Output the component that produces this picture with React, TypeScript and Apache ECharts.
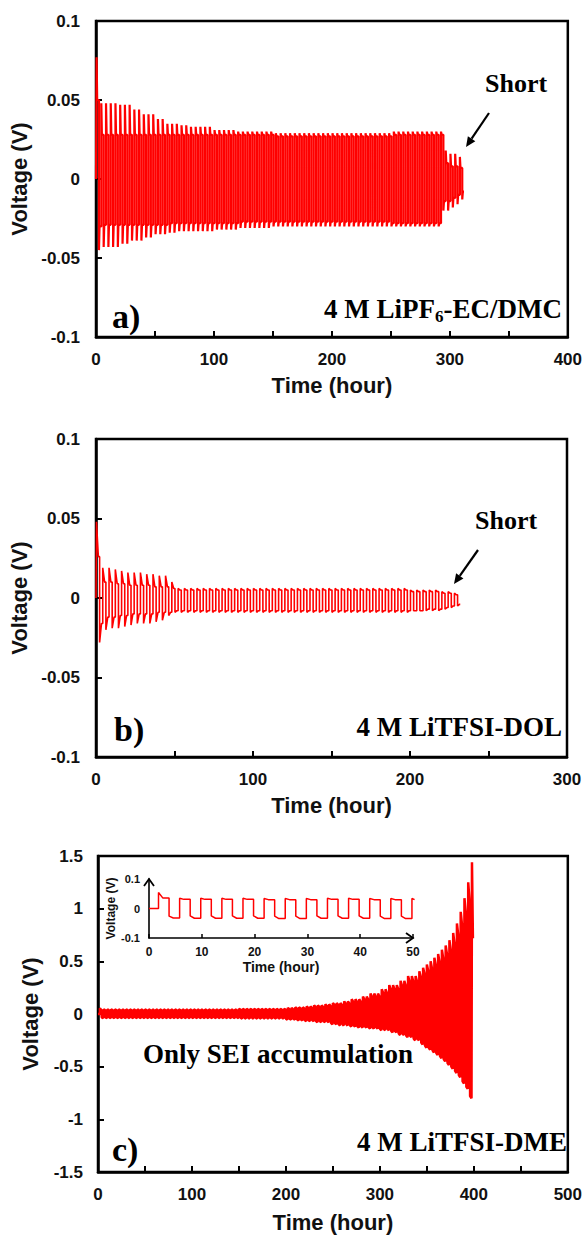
import React, { useEffect, useRef } from 'react';
import * as echarts from 'echarts';

const RED = '#ff0000';
const SANS = '"Liberation Sans", Arial, sans-serif';
const SERIF = '"Liberation Serif", "Times New Roman", serif';

// ---------- Panel a: 4 M LiPF6-EC/DMC (half-cycle 2 h) ----------
const aStart = 0.5;
const aEnd = 312;
const aKnots = [0, 4, 20, 30, 40, 50, 60, 70, 80, 100, 120, 150, 200, 250, 290, 294, 300, 306, 310];
const aUpPeak = [0.077, 0.048, 0.047, 0.044, 0.041, 0.038, 0.035, 0.034, 0.033, 0.031, 0.03, 0.029, 0.029, 0.03, 0.03, 0.018, 0.016, 0.014, 0.011];
const aUpPlat = [0.05, 0.028, 0.028, 0.028, 0.028, 0.028, 0.028, 0.028, 0.028, 0.028, 0.028, 0.027, 0.027, 0.028, 0.028, 0.01, 0.008, 0.007, 0.006];
const aLoPeak = [-0.045, -0.043, -0.041, -0.039, -0.037, -0.035, -0.034, -0.033, -0.033, -0.032, -0.031, -0.03, -0.03, -0.03, -0.03, -0.02, -0.018, -0.016, -0.013];
const aLoPlat = [-0.03, -0.029, -0.029, -0.029, -0.029, -0.029, -0.028, -0.028, -0.028, -0.028, -0.027, -0.027, -0.027, -0.028, -0.028, -0.014, -0.012, -0.01, -0.008];

// ---------- Panel b: 4 M LiTFSI-DOL ----------
const bStart = 0.3;
const bEnd = 232;
const bKnots = [0, 4, 8, 12, 16, 20, 25, 30, 35, 40, 45, 50, 100, 150, 200, 210, 220, 226, 230];
const bUpPeak = [0.048, 0.019, 0.019, 0.018, 0.017, 0.016, 0.016, 0.015, 0.015, 0.014, 0.01, 0.006, 0.006, 0.006, 0.005, 0.005, 0.004, 0.003, 0.003];
const bUpPlat = [0.026, 0.01, 0.01, 0.009, 0.009, 0.008, 0.008, 0.008, 0.007, 0.007, 0.006, 0.005, 0.005, 0.005, 0.004, 0.004, 0.003, 0.002, 0.002];
const bLoPeak = [-0.028, -0.02, -0.019, -0.019, -0.018, -0.017, -0.016, -0.016, -0.015, -0.014, -0.011, -0.009, -0.009, -0.009, -0.008, -0.008, -0.007, -0.006, -0.005];
const bLoPlat = [-0.016, -0.012, -0.012, -0.011, -0.011, -0.01, -0.01, -0.01, -0.009, -0.009, -0.009, -0.008, -0.008, -0.008, -0.008, -0.007, -0.006, -0.005, -0.004];

// ---------- Panel c: 4 M LiTFSI-DME ----------
const cStart = 2;
const cEnd = 399;
const cUpKnots = [0, 4, 150, 200, 210, 220, 230, 240, 250, 260, 270, 280, 290, 300, 310, 320, 330, 340, 346, 350, 354, 358, 362, 366, 370, 374, 378, 382, 386, 390, 394, 398];
const cUpPeak = [0.055, 0.045, 0.05, 0.058, 0.064, 0.072, 0.082, 0.092, 0.105, 0.12, 0.14, 0.165, 0.195, 0.235, 0.275, 0.315, 0.36, 0.405, 0.44, 0.47, 0.5, 0.535, 0.57, 0.61, 0.65, 0.7, 0.77, 0.86, 0.97, 1.1, 1.25, 1.44];
const cUpPlat = [0.038, 0.038, 0.042, 0.048, 0.053, 0.06, 0.068, 0.076, 0.088, 0.1, 0.118, 0.14, 0.165, 0.2, 0.235, 0.27, 0.31, 0.35, 0.38, 0.405, 0.43, 0.46, 0.49, 0.52, 0.56, 0.6, 0.66, 0.74, 0.84, 0.95, 1.06, 0.72];
const cLoKnots = [0, 150, 200, 210, 220, 230, 245, 255, 265, 275, 285, 300, 310, 320, 328, 336, 344, 348, 352, 356, 360, 364, 368, 372, 376, 380, 384, 388, 392, 396];
const cLoPeak = [-0.033, -0.036, -0.045, -0.052, -0.058, -0.066, -0.085, -0.095, -0.105, -0.115, -0.125, -0.14, -0.16, -0.185, -0.205, -0.235, -0.27, -0.3, -0.32, -0.345, -0.37, -0.4, -0.43, -0.465, -0.5, -0.54, -0.58, -0.64, -0.69, -0.78];
const cLoPlat = [-0.04, -0.043, -0.055, -0.062, -0.069, -0.078, -0.1, -0.11, -0.12, -0.13, -0.14, -0.155, -0.175, -0.2, -0.22, -0.25, -0.29, -0.32, -0.34, -0.365, -0.39, -0.42, -0.45, -0.485, -0.52, -0.56, -0.6, -0.66, -0.71, -0.8];

// ---------- Inset (first 50 h of panel c) ----------
const iStart = 1.8;
const iEnd = 50.3;
const iKnots = [0, 4, 20, 30, 40];
const iUpPeak = [0.054, 0.035, 0.034, 0.035, 0.034];
const iUpPlat = [0.036, 0.031, 0.03, 0.031, 0.03];
const iLoPeak = [-0.026, -0.025, -0.026, -0.025, -0.026];
const iLoPlat = [-0.032, -0.033, -0.034, -0.033, -0.034];

// tick labels
const aXTicks = [0, 100, 200, 300, 400];
const aYTicks = [-0.1, -0.05, 0, 0.05, 0.1];
const bXTicks = [0, 100, 200, 300];
const cXTicks = [0, 100, 200, 300, 400, 500];
const cYTicks = [-1.5, -1, -0.5, 0, 0.5, 1, 1.5];
const iXTicks = [0, 10, 20, 30, 40, 50];
const iYTicks = [-0.1, 0, 0.1];

function valueAt(knots: number[], vals: number[], t: number): number {
  let v = vals[0];
  for (let i = 0; i < knots.length; i++) if (knots[i] <= t + 1e-6) v = vals[i];
  return v;
}

function cycling(start: number, end: number, half: number, spike: number,
  upK: number[], upPeak: number[], upPlat: number[],
  loK: number[], loPeak: number[], loPlat: number[]): number[][] {
  const pts: number[][] = [[0, 0], [start, 0]];
  let t = start;
  let up = true;
  while (t < end - 1e-6) {
    const t1 = Math.min(t + half, end);
    const k = up ? upK : loK;
    const p = valueAt(k, up ? upPeak : loPeak, t);
    const q = valueAt(k, up ? upPlat : loPlat, t);
    pts.push([t, p]);
    if (t + spike < t1) pts.push([t + spike, q]);
    pts.push([t1, q]);
    t = t1;
    up = !up;
  }
  return pts;
}

function measure(text: string, font: string): number {
  const c = document.createElement('canvas').getContext('2d');
  if (!c) return text.length * 10;
  c.font = font;
  return c.measureText(text).width;
}

const fmt = (v: number) => String(parseFloat(v.toFixed(3)));

function xAxisMain(gridIndex: number, ticks: number[], nameGap: number) {
  return {
    type: 'value', gridIndex, min: ticks[0], max: ticks[ticks.length - 1], interval: ticks[1] - ticks[0],
    name: 'Time (hour)', nameLocation: 'middle', nameGap,
    nameTextStyle: { fontSize: 22, fontWeight: 'bold', fontFamily: SANS, color: '#111' },
    axisLine: { show: true, onZero: false, lineStyle: { color: '#000', width: 2.5 } },
    axisTick: { show: true, inside: true, length: 6, lineStyle: { color: '#000', width: 2 } },
    minorTick: { show: true, splitNumber: 2, length: 6, lineStyle: { color: '#000', width: 2 } },
    axisLabel: { fontSize: 17, fontWeight: 'bold', fontFamily: SANS, color: '#111', margin: 14, formatter: fmt },
    splitLine: { show: false }, minorSplitLine: { show: false },
  };
}

function yAxisMain(gridIndex: number, ticks: number[], margin: number) {
  return {
    type: 'value', gridIndex, min: ticks[0], max: ticks[ticks.length - 1], interval: ticks[1] - ticks[0],
    name: 'Voltage (V)', nameLocation: 'middle', nameGap: 57, nameRotate: 90,
    nameTextStyle: { fontSize: 22, fontWeight: 'bold', fontFamily: SANS, color: '#111' },
    axisLine: { show: true, onZero: false, lineStyle: { color: '#000', width: 2.5 } },
    axisTick: { show: true, inside: true, length: 6, lineStyle: { color: '#000', width: 2 } },
    axisLabel: { fontSize: 17, fontWeight: 'bold', fontFamily: SANS, color: '#111', margin, formatter: fmt },
    splitLine: { show: false },
  };
}

function arrow(x1: number, y1: number, x2: number, y2: number): any[] {
  const dx = x2 - x1, dy = y2 - y1;
  const len = Math.hypot(dx, dy);
  const ux = dx / len, uy = dy / len;
  const hl = 10, hw = 4.5;
  const bx = x2 - ux * hl, by = y2 - uy * hl;
  return [
    { type: 'line', shape: { x1, y1, x2: bx, y2: by }, style: { stroke: '#000', lineWidth: 2.2 } },
    { type: 'polygon', shape: { points: [[x2, y2], [bx - uy * hw, by + ux * hw], [bx + uy * hw, by - ux * hw]] }, style: { fill: '#000' } },
  ];
}

function textEl(text: string, x: number, y: number, size: number, align = 'left'): any {
  return {
    type: 'text', x, y,
    style: {
      text, fill: '#000', font: `bold ${size}px ${SERIF}`,
      textAlign: align, textVerticalAlign: 'middle', align, verticalAlign: 'middle',
    },
  };
}

function subscriptLabel(pre: string, sub: string, post: string, right: number, y: number, size: number, subSize: number): any[] {
  const f = `bold ${size}px ${SERIF}`;
  const fs = `bold ${subSize}px ${SERIF}`;
  const w3 = measure(post, f);
  const w2 = measure(sub, fs);
  const x3 = right - w3;
  const x2 = x3 - w2;
  return [
    textEl(pre, x2, y, size, 'right'),
    { type: 'text', x: x2, y: y + 7, style: { text: sub, fill: '#000', font: fs, textAlign: 'left', textVerticalAlign: 'middle', align: 'left', verticalAlign: 'middle' } },
    textEl(post, x3, y, size, 'left'),
  ];
}

export default function App() {
  const ref = useRef<HTMLDivElement>(null);
  useEffect(() => {
    if (!ref.current) return;
    const chart = echarts.init(ref.current, undefined, { renderer: 'svg' });

    const dataA = cycling(aStart, aEnd, 2, 0.5, aKnots, aUpPeak, aUpPlat, aKnots, aLoPeak, aLoPlat);
    const dataB = cycling(bStart, bEnd, 2, 1.2, bKnots, bUpPeak, bUpPlat, bKnots, bLoPeak, bLoPlat);
    const dataC = cycling(cStart, cEnd, 2, 1.5, cUpKnots, cUpPeak, cUpPlat, cLoKnots, cLoPeak, cLoPlat);
    const dataI = cycling(iStart, iEnd, 2, 0.8, iKnots, iUpPeak, iUpPlat, iKnots, iLoPeak, iLoPlat);

    const gridBorder = { show: true, borderColor: '#000', borderWidth: 2.5, backgroundColor: 'transparent' };
    const lineSeries = (data: number[][], idx: number, width: number) => ({
      type: 'line', xAxisIndex: idx, yAxisIndex: idx, data, showSymbol: false, symbol: 'none',
      lineStyle: { color: RED, width }, itemStyle: { color: RED }, clip: true, silent: true,
    });

    const iFont = { fontWeight: 'bold', fontFamily: SANS, color: '#111' };

    const option: any = {
      animation: false,
      backgroundColor: '#fff',
      grid: [
        { left: 96, top: 21, width: 472, height: 316, ...gridBorder },
        { left: 96, top: 439, width: 471, height: 318, ...gridBorder },
        { left: 98, top: 856, width: 473, height: 316, ...gridBorder },
        { left: 149, top: 879, width: 264, height: 59, show: false },
      ],
      xAxis: [
        xAxisMain(0, aXTicks, 37),
        xAxisMain(1, bXTicks, 37),
        xAxisMain(2, cXTicks, 39),
        {
          type: 'value', gridIndex: 3, min: iXTicks[0], max: iXTicks[iXTicks.length - 1], interval: iXTicks[1] - iXTicks[0],
          name: 'Time (hour)', nameLocation: 'middle', nameGap: 22,
          nameTextStyle: { fontSize: 14, ...iFont },
          axisLine: { show: true, onZero: false, lineStyle: { color: '#000', width: 1.6 } },
          axisTick: { show: true, inside: true, length: 4, lineStyle: { color: '#000', width: 1.5 } },
          axisLabel: { fontSize: 12, ...iFont, margin: 8, formatter: fmt },
          splitLine: { show: false },
        },
      ],
      yAxis: [
        yAxisMain(0, aYTicks, 16),
        yAxisMain(1, aYTicks, 16),
        yAxisMain(2, cYTicks, 15),
        {
          type: 'value', gridIndex: 3, min: iYTicks[0], max: iYTicks[iYTicks.length - 1], interval: iYTicks[1] - iYTicks[0],
          name: 'Voltage (V)', nameLocation: 'middle', nameGap: 27, nameRotate: 90,
          nameTextStyle: { fontSize: 12, ...iFont },
          axisLine: { show: true, onZero: false, lineStyle: { color: '#000', width: 1.6 } },
          axisTick: { show: false },
          axisLabel: { fontSize: 11, ...iFont, margin: 9, formatter: fmt },
          splitLine: { show: false },
        },
      ],
      series: [
        lineSeries(dataA, 0, 2.2),
        lineSeries(dataB, 1, 1.6),
        lineSeries(dataC, 2, 2.5),
        lineSeries(dataI, 3, 1.5),
      ],
      graphic: [
        // panel a
        textEl('Short', 485, 83, 26),
        ...arrow(489, 113, 466, 147),
        ...subscriptLabel('4 M LiPF', '6', '-EC/DMC', 562, 309, 27, 17),
        textEl('a)', 112, 316, 34),
        // panel b
        textEl('Short', 475, 520, 26),
        ...arrow(478, 550, 454, 584),
        textEl('4 M LiTFSI-DOL', 562, 727, 27, 'right'),
        textEl('b)', 114, 729, 34),
        // panel c
        textEl('Only SEI accumulation', 143, 1054, 27),
        textEl('4 M LiTFSI-DME', 567, 1142, 27, 'right'),
        textEl('c)', 112, 1149, 34),
        // inset arrow heads
        { type: 'polyline', shape: { points: [[144, 886], [149, 879], [154, 886]] }, style: { stroke: '#000', lineWidth: 1.8, fill: null } },
        { type: 'polyline', shape: { points: [[406, 933], [413, 938], [406, 943]] }, style: { stroke: '#000', lineWidth: 1.8, fill: null } },
      ],
    };
    chart.setOption(option);
    return () => chart.dispose();
  }, []);
  return <div ref={ref} style={{ position: 'fixed', left: 0, top: 0, width: 585, height: 1235, background: '#fff' }} />;
}
